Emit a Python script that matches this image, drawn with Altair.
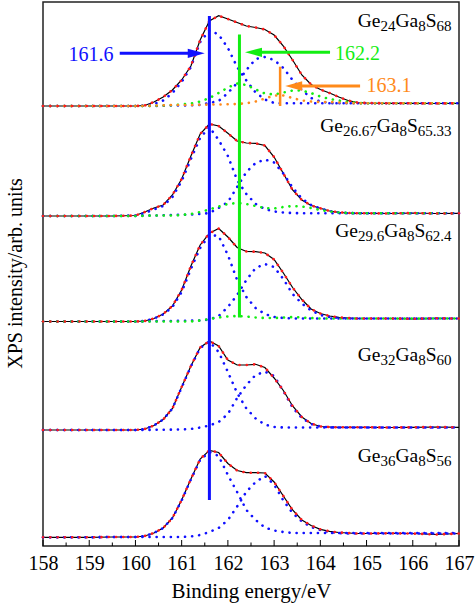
import altair as alt
import pandas as pd

# ---------------- data ----------------
energy = [158.0, 158.5, 159.0, 159.5, 160.0, 160.2, 160.4, 160.6, 160.8, 161.0,
          161.2, 161.4, 161.6, 161.8, 162.0, 162.2, 162.4, 162.6, 162.8, 163.0,
          163.2, 163.4, 163.6, 163.8, 164.0, 164.2, 164.4, 164.6, 164.8, 165.0,
          165.5, 166.0, 166.5, 167.0]

samples = ["Ge24Ga8S68", "Ge26.67Ga8S65.33", "Ge29.6Ga8S62.4", "Ge32Ga8S60", "Ge36Ga8S56"]

# Ge24Ga8S68 (top, offset stack)
ge24_measured = [440, 440, 440, 440, 440, 440.5, 444, 449, 456, 466, 480, 506, 525, 530.3, 527, 523.5, 520,
                 518.5, 516.5, 511, 500, 486, 471, 461.5, 456.5, 453, 449, 445.5, 443.5, 443, 442.7, 442.7, 442.5, 442.7]
ge24_peak_a = [440, 440, 440, 440, 440, 440.5, 442, 445.5, 453, 464, 479, 504, 515.5, 511.5, 498, 479, 465.5,
               453.5, 446.5, 443, 442.7, 442.7, 442.7, 442.7, 442.7, 442.7, 442.7, 442.7, 442.7, 442.7, 442.7, 442.7, 442.7, 442.7]
ge24_peak_b = [440, 440, 440, 440, 440, 440, 440, 440.2, 440.5, 440.5, 440.7, 441.2, 443, 445, 453, 463, 476,
               487, 489, 486, 478, 466, 456, 448, 444.5, 443, 442.7, 442.7, 442.7, 442.7, 442.7, 442.7, 442.7, 442.7]
ge24_green = [440, 440, 440, 440, 440, 440, 440.2, 440.5, 440.8, 441.5, 442.5, 444.5, 448, 453, 458.5, 462.5, 461,
              456.5, 452.5, 451.5, 453.5, 455.5, 455.5, 453, 449.5, 447, 445.5, 444, 443, 442.7, 442.7, 442.7, 442.7, 442.7]
ge24_orange = [440, 440, 440, 440, 440, 440.2, 440.5, 440.7, 441, 441, 441, 441.2, 441.4, 441.5, 441.7, 442, 442.7,
               444.5, 447.5, 450.5, 450.5, 448, 445.5, 444.5, 444, 444, 443.5, 443, 442.7, 442.7, 442.7, 442.7, 442.7, 442.7]

# Ge26.67Ga8S65.33
ge2667_measured = [330, 330, 330, 330, 330.5, 334, 338, 341, 351, 367, 390, 412, 422, 420, 412.7, 405, 403,
                   402.7, 400.5, 389, 372.5, 356, 346, 340.5, 337.7, 335, 333.7, 333, 332.7, 332.7, 332.5, 333, 332.5, 332.7]
ge2667_peak_a = [330, 330, 330, 330, 330.5, 333, 336.5, 340, 349, 365, 387, 408, 419, 406, 390, 366, 352,
                 342, 337, 334.5, 333.5, 333, 332.7, 332.7, 332.7, 332.7, 332.7, 332.7, 332.7, 332.7, 332.7, 332.7, 332.7, 332.7]
ge2667_peak_b = [330, 330, 330, 330, 330, 330.5, 330.5, 330.7, 331, 331.2, 331.5, 332, 333, 338, 344, 359, 374,
                 383, 386.5, 383.5, 372.5, 358.5, 347.5, 341, 337.5, 335, 333.5, 333, 332.7, 332.7, 332.7, 332.7, 332.7, 332.7]
ge2667_green = [330, 330, 330, 330, 330, 330.2, 330.5, 330.5, 330.5, 331, 332, 334, 336.5, 339.5, 342, 343, 342,
                340, 338, 337.5, 339, 340, 339.5, 338, 336, 334.5, 333.5, 333, 332.7, 332.7, 332.7, 332.7, 332.7, 332.7]

# Ge29.6Ga8S62.4
ge296_measured = [224.5, 224.5, 224.5, 224.5, 224.5, 225, 227.5, 232, 240, 256, 280, 301, 312.7, 317.5, 309, 298.5, 294.5,
                  294.3, 293, 286.5, 273, 258.5, 246.5, 237, 232.5, 230, 228.7, 228, 227.5, 227.5, 227.5, 227.2, 227.7, 227.5]
ge296_peak_a = [224.5, 224.5, 224.5, 224.5, 224.5, 225, 227.5, 231.5, 239, 254, 277, 298, 311, 310, 291, 266, 249,
                238, 232, 229, 228, 227.5, 227.5, 227.5, 227.5, 227.5, 227.5, 227.5, 227.5, 227.5, 227.5, 227.5, 227.5, 227.5]
ge296_peak_b = [224.5, 224.5, 224.5, 224.5, 224.5, 224.7, 224.8, 225, 225, 225.2, 225.3, 225.5, 226.5, 230, 239, 251, 266,
                278, 282, 279, 267, 252, 242.5, 235.5, 231, 229, 228, 227.5, 227.5, 227.5, 227.5, 227.5, 227.5, 227.5]
ge296_green = [224.5, 224.5, 224.5, 224.5, 224.5, 224.5, 224.5, 224.5, 224.5, 224.5, 224.5, 225.5, 227, 228.5, 229.5, 230, 229.5,
               228.5, 228, 228, 228.5, 229, 228.5, 228, 227.5, 227.5, 227.5, 227.5, 227.5, 227.5, 227.5, 227.5, 227.5, 227.5]

# Ge32Ga8S60
ge32_measured = [116, 116, 116, 116, 116, 117, 120.5, 126.5, 137.5, 159, 180, 198.5, 205, 200, 186, 181, 181,
                 181.7, 178.5, 168, 155.5, 140, 129, 122.5, 119.5, 119, 118.7, 118.7, 118.7, 118.7, 118.5, 118.7, 119, 118.7]
ge32_peak_a = [116, 116, 116, 116, 116, 117, 120.5, 126.5, 137.5, 158.5, 179.5, 198, 204.5, 194, 174, 153, 137.5,
               127.5, 121.5, 119, 118.5, 118.5, 118.5, 118.5, 118.5, 118.5, 118.5, 118.5, 118.5, 118.5, 118.5, 118.5, 118.5, 118.5]
ge32_peak_b = [116, 116, 116, 116, 116, 116, 116.2, 116.3, 116.4, 116.5, 117, 118.5, 120.5, 124, 132, 148, 161,
               171, 174.3, 170, 155, 138.5, 128, 122, 119.5, 118.7, 118.5, 118.5, 118.5, 118.5, 118.5, 118.5, 118.5, 118.5]

# Ge36Ga8S56 (bottom)
ge36_measured = [8.7, 8.7, 8.7, 9, 9, 10, 13, 18, 28, 46, 67, 87, 95.7, 93.5, 82.5, 75.5, 73.3,
                 73.3, 73, 64, 50, 36, 26, 20.5, 16.7, 14.7, 13.5, 13, 12.5, 12.5, 12.7, 12.5, 11.5, 12.5]
ge36_peak_a = [8.7, 8.7, 8.7, 9, 9, 10, 13, 18, 28, 45.5, 66.5, 86, 94, 90, 71, 54, 36,
               26, 18.5, 15.5, 14, 13, 13, 13, 13, 13, 13, 13, 13, 13, 13, 13, 13, 13]
ge36_peak_b = [8.7, 8.7, 8.7, 9, 9, 9, 9, 9, 9, 9, 9.5, 11, 14, 18, 26, 39.5, 54.3,
               64, 70, 61.5, 45.5, 33, 24.5, 19, 16, 14, 13, 12.5, 12.5, 12.5, 12.5, 12.5, 12.5, 12.5]

# marked binding energies (label, drawn position, line top, line bottom)
mark_labels = ["161.6", "162.2", "163.1"]
mark_energy = [161.6, 162.25, 163.13]
mark_top = [530, 511.5, 479.3]
mark_bottom = [46, 228.5, 440]
arrow_tip = [161.50, 162.37, 163.24]
arrow_tail = [159.66, 164.21, 164.86]
arrow_y = [492.7, 493.7, 460]
label_left = [158.55, 164.32, 165.0]
label_base = [485.3, 486, 454.3]

BLUE, GREEN, ORANGE, RED = "#1010ff", "#12ee12", "#ff8a1a", "#ff1a1a"
mark_colors = [BLUE, GREEN, ORANGE]

# ---------------- tables ----------------
measured = [ge24_measured, ge2667_measured, ge296_measured, ge32_measured, ge36_measured]
rows = []
for s, vals in zip(samples, measured):
    for e, v in zip(energy, vals):
        rows.append({"E": e, "I": v, "key": s})
df_meas = pd.DataFrame(rows)

def comp_table(items):
    out = []
    for key, vals in items:
        for e, v in zip(energy, vals):
            out.append({"E": e, "I": v, "key": key})
    return pd.DataFrame(out)

df_blue = comp_table([
    ("24a", ge24_peak_a), ("24b", ge24_peak_b),
    ("26a", ge2667_peak_a), ("26b", ge2667_peak_b),
    ("29a", ge296_peak_a), ("29b", ge296_peak_b),
    ("32a", ge32_peak_a), ("32b", ge32_peak_b),
    ("36a", ge36_peak_a), ("36b", ge36_peak_b),
])
df_green = comp_table([("24g", ge24_green), ("26g", ge2667_green), ("29g", ge296_green)])
df_orange = comp_table([("24o", ge24_orange)])

df_marks = pd.DataFrame({"E": mark_energy, "top": mark_top, "bottom": mark_bottom, "c": mark_colors,
                         "w": [3, 3, 2.5]})
df_arrows = pd.DataFrame({"tip": arrow_tip, "tail": arrow_tail, "y": arrow_y, "c": mark_colors,
                          "shaft_end": [arrow_tip[0] - 0.2, arrow_tip[1] + 0.2, arrow_tip[2] + 0.2]})
df_alabels = pd.DataFrame({"E": label_left, "y": label_base, "t": mark_labels, "c": mark_colors})

# composition labels with subscripts (Liberation Serif advance widths, em)
FONT = "Liberation Serif"
PX_PER_EV = 416 / 9.0
CHAR_EM = {"G": 0.722, "e": 0.444, "a": 0.444, "S": 0.556, ".": 0.25}
MAIN, SUB = 19.5, 15

def text_w(s, size):
    return sum(CHAR_EM.get(c, 0.5) for c in s) * size

label_parts = [
    [("Ge", 0), ("24", 1), ("Ga", 0), ("8", 1), ("S", 0), ("68", 1)],
    [("Ge", 0), ("26.67", 1), ("Ga", 0), ("8", 1), ("S", 0), ("65.33", 1)],
    [("Ge", 0), ("29.6", 1), ("Ga", 0), ("8", 1), ("S", 0), ("62.4", 1)],
    [("Ge", 0), ("32", 1), ("Ga", 0), ("8", 1), ("S", 0), ("60", 1)],
    [("Ge", 0), ("36", 1), ("Ga", 0), ("8", 1), ("S", 0), ("56", 1)],
]
label_baselines = [519.5, 414.3, 308.7, 185, 83.7]
label_right = 166.84
lab_rows = []
for parts, base in zip(label_parts, label_baselines):
    total = sum(text_w(t, SUB if sub else MAIN) for t, sub in parts)
    x = label_right - total / PX_PER_EV
    for t, sub in parts:
        lab_rows.append({"E": x, "y": base - 4 if sub else base, "t": t, "sub": sub})
        x += text_w(t, SUB if sub else MAIN) / PX_PER_EV
df_lab = pd.DataFrame(lab_rows)

major_ticks = [158, 159, 160, 161, 162, 163, 164, 165, 166, 167]
minor_ticks = [158.5, 159.5, 160.5, 161.5, 162.5, 163.5, 164.5, 165.5, 166.5]

# ---------------- chart ----------------
xs = alt.Scale(domain=[158, 167], nice=False, zero=False)
ys = alt.Scale(domain=[0, 544], nice=False, zero=False)

x_axis = alt.Axis(values=major_ticks, ticks=False, tickSize=0, domain=False, grid=False, format="d",
                  labelFont=FONT, labelFontSize=20, labelColor="black", labelPadding=7, labelFlush=False,
                  title="Binding energy/eV", titleFont=FONT, titleFontSize=21, titleFontWeight="normal",
                  titleColor="black", titleY=51, titleBaseline="alphabetic")
y_axis = alt.Axis(labels=False, ticks=False, domain=False, grid=False,
                  title="XPS intensity/arb. units", titleFont=FONT, titleFontSize=20, titleFontWeight="normal",
                  titleColor="black", titleX=-22, titleY=271, titleBaseline="alphabetic", titleAngle=270)

def X(f):
    return alt.X(f, scale=xs, axis=x_axis, title="Binding energy/eV")

def Y(f):
    return alt.Y(f, scale=ys, axis=y_axis, title="XPS intensity/arb. units")

dot = dict(strokeDash=[0.1, 7], strokeCap="round", strokeWidth=2.6)

black = alt.Chart(df_meas).mark_line(color="black", strokeWidth=1.2).encode(
    x=X("E:Q"), y=Y("I:Q"), detail="key:N")
blue = alt.Chart(df_blue).mark_line(color=BLUE, **dot).encode(x=X("E:Q"), y=Y("I:Q"), detail="key:N")
green = alt.Chart(df_green).mark_line(color=GREEN, **dot).encode(x=X("E:Q"), y=Y("I:Q"), detail="key:N")
orange = alt.Chart(df_orange).mark_line(color=ORANGE, **dot).encode(x=X("E:Q"), y=Y("I:Q"), detail="key:N")
red = alt.Chart(df_meas).mark_line(color=RED, strokeDash=[0.1, 7.2], strokeCap="round", strokeWidth=2.6).encode(
    x=X("E:Q"), y=Y("I:Q"), detail="key:N")

vlines = alt.Chart(df_marks).mark_rule().encode(
    x=X("E:Q"), y=Y("top:Q"), y2="bottom:Q",
    color=alt.Color("c:N", scale=None), strokeWidth=alt.StrokeWidth("w:Q", scale=None))

shafts = alt.Chart(df_arrows).mark_rule(strokeWidth=3).encode(
    x=X("tail:Q"), x2="shaft_end:Q", y=Y("y:Q"), color=alt.Color("c:N", scale=None))
head_r = alt.Chart(df_arrows.iloc[[0]]).mark_point(
    shape="M0,0 L-2,-0.55 L-2,0.55 Z", size=289, filled=True, opacity=1, strokeWidth=0).encode(
    x=X("tip:Q"), y=Y("y:Q"), color=alt.Color("c:N", scale=None))
head_l = alt.Chart(df_arrows.iloc[[1, 2]]).mark_point(
    shape="M0,0 L2,-0.55 L2,0.55 Z", size=289, filled=True, opacity=1, strokeWidth=0).encode(
    x=X("tip:Q"), y=Y("y:Q"), color=alt.Color("c:N", scale=None))
alabels = alt.Chart(df_alabels).mark_text(align="left", baseline="alphabetic", font=FONT, fontSize=20).encode(
    x=X("E:Q"), y=Y("y:Q"), text="t:N", color=alt.Color("c:N", scale=None))

main_txt = alt.Chart(df_lab[df_lab["sub"] == 0]).mark_text(
    align="left", baseline="alphabetic", font=FONT, fontSize=MAIN, color="black").encode(
    x=X("E:Q"), y=Y("y:Q"), text="t:N")
sub_txt = alt.Chart(df_lab[df_lab["sub"] == 1]).mark_text(
    align="left", baseline="alphabetic", font=FONT, fontSize=SUB, color="black").encode(
    x=X("E:Q"), y=Y("y:Q"), text="t:N")

ticks_major = alt.Chart(pd.DataFrame({"E": major_ticks})).mark_rule(color="black", strokeWidth=1).encode(
    x=X("E:Q"), y=alt.value(544), y2=alt.value(538))
ticks_minor = alt.Chart(pd.DataFrame({"E": minor_ticks})).mark_rule(color="black", strokeWidth=1).encode(
    x=X("E:Q"), y=alt.value(544), y2=alt.value(540.5))

chart = alt.layer(
    black, blue, green, orange, red, vlines, shafts, head_r, head_l, alabels, main_txt, sub_txt,
    ticks_major, ticks_minor
).properties(
    width=416, height=544,
    autosize=alt.AutoSizeParams(type="none"),
    padding={"left": 43, "top": 2, "right": 16, "bottom": 59},
    background="white",
).configure_view(stroke="#222222", strokeWidth=1.5)

chart.save("out.html", embed_options={"renderer": "svg", "actions": False})
